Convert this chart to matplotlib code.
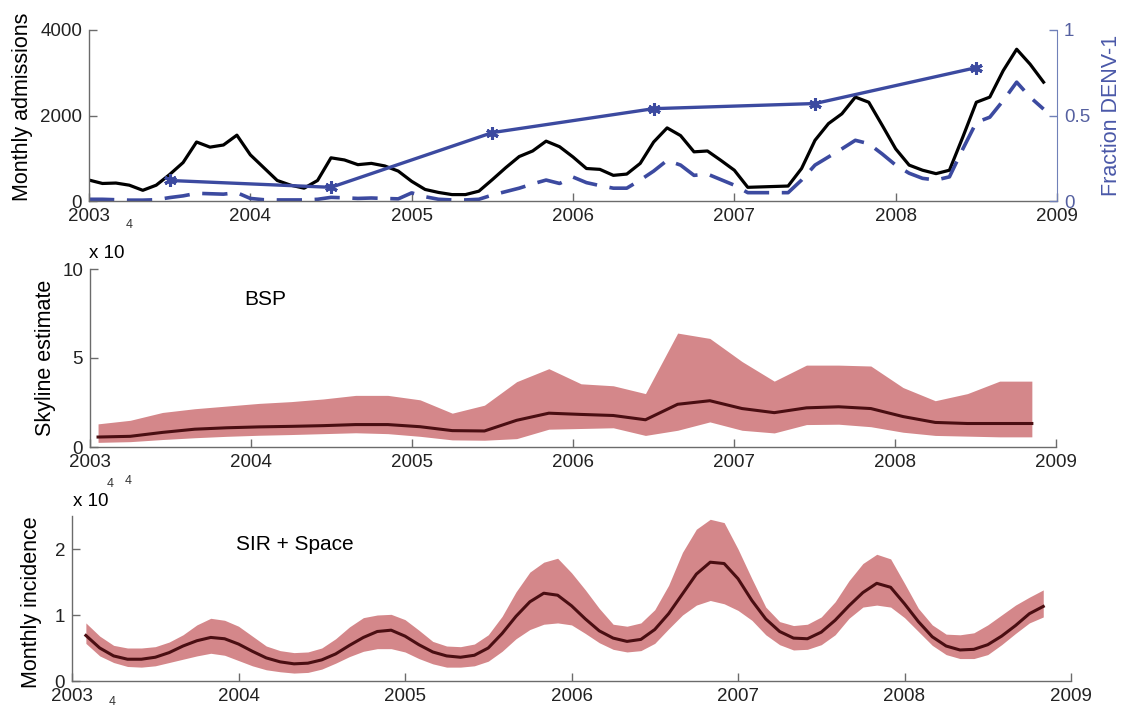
import numpy as np
import matplotlib.pyplot as plt

plt.rcParams['font.family'] = ['Liberation Sans', 'DejaVu Sans']

# monthly hospital admissions, Jan 2003 - Dec 2008
admissions = [490, 410, 420, 370, 250, 370, 620, 900, 1380, 1260, 1310, 1540,
              1080, 780, 480, 370, 300, 480, 1010, 960, 850, 880, 820, 700,
              460, 270, 200, 150, 150, 230, 500, 780, 1040, 1170, 1400, 1270,
              1030, 760, 740, 600, 630, 880, 1380, 1710, 1530, 1150, 1170, 950,
              720, 320, 330, 340, 350, 760, 1420, 1810, 2040, 2430, 2310, 1770,
              1220, 840, 720, 640, 720, 1500, 2310, 2430, 3050, 3550, 3200, 2780]
# admissions attributed to DENV-1
denv1_admissions = [40, 40, 30, 20, 20, 30, 80, 120, 180, 170, 160, 195,
                    60, 30, 25, 25, 25, 40, 85, 75, 60, 70, 60, 50,
                    190, 100, 40, 25, 25, 40, 140, 220, 300, 400, 490, 410,
                    560, 430, 360, 300, 300, 490, 700, 950, 840, 600, 630, 500,
                    370, 195, 195, 195, 195, 490, 840, 1030, 1220, 1420, 1340, 1100,
                    840, 650, 530, 490, 565, 1220, 1840, 1960, 2350, 2780, 2430, 2150]
# yearly fraction of sequenced isolates that are DENV-1
frac_years = [2003.5, 2004.5, 2005.5, 2006.5, 2007.5, 2008.5]
frac_denv1 = [0.12, 0.08, 0.40, 0.54, 0.57, 0.78]

# Bayesian skyline plot (x 10^4)
bsp_time = [2003.05, 2003.25, 2003.45, 2003.65, 2003.85, 2004.05, 2004.25, 2004.45,
            2004.65, 2004.85, 2005.05, 2005.25, 2005.45, 2005.65, 2005.85, 2006.05,
            2006.25, 2006.45, 2006.65, 2006.85, 2007.05, 2007.25, 2007.45, 2007.65,
            2007.85, 2008.05, 2008.25, 2008.45, 2008.65, 2008.85]
bsp_median = [0.56, 0.60, 0.82, 1.00, 1.08, 1.13, 1.16, 1.20, 1.26, 1.26, 1.14, 0.92,
              0.90, 1.50, 1.90, 1.83, 1.77, 1.53, 2.40, 2.60, 2.16, 1.93, 2.20, 2.26,
              2.16, 1.71, 1.38, 1.32, 1.32, 1.32]
bsp_upper = [1.30, 1.50, 1.94, 2.15, 2.30, 2.45, 2.55, 2.70, 2.90, 2.90, 2.65, 1.90,
             2.35, 3.67, 4.40, 3.55, 3.44, 3.00, 6.40, 6.10, 4.80, 3.70, 4.60, 4.60,
             4.55, 3.34, 2.60, 3.00, 3.70, 3.70]
bsp_lower = [0.26, 0.30, 0.42, 0.52, 0.60, 0.66, 0.70, 0.75, 0.80, 0.75, 0.60, 0.40,
             0.38, 0.47, 1.00, 1.04, 1.08, 0.65, 0.94, 1.41, 0.94, 0.79, 1.26, 1.28,
             1.14, 0.83, 0.65, 0.61, 0.57, 0.57]

# SIR + space model monthly incidence (x 10^4), Feb 2003 - Nov 2008
sir_median = [0.69, 0.50, 0.38, 0.33, 0.33, 0.36, 0.43, 0.53, 0.61, 0.66, 0.64,
              0.56, 0.45, 0.35, 0.29, 0.26, 0.27, 0.32, 0.41, 0.54, 0.66, 0.75, 0.77,
              0.68, 0.55, 0.44, 0.38, 0.36, 0.39, 0.50, 0.72, 0.98, 1.20, 1.33, 1.30,
              1.14, 0.94, 0.76, 0.65, 0.60, 0.63, 0.78, 1.02, 1.32, 1.62, 1.80, 1.78,
              1.55, 1.22, 0.94, 0.75, 0.65, 0.64, 0.74, 0.92, 1.14, 1.34, 1.48, 1.42,
              1.17, 0.90, 0.67, 0.53, 0.47, 0.48, 0.55, 0.68, 0.84, 1.02, 1.13]
sir_upper = [0.88, 0.68, 0.54, 0.50, 0.50, 0.52, 0.59, 0.70, 0.85, 0.95, 0.92,
             0.83, 0.68, 0.53, 0.46, 0.43, 0.44, 0.50, 0.64, 0.82, 0.96, 1.00, 1.01,
             0.93, 0.77, 0.60, 0.53, 0.52, 0.56, 0.70, 0.98, 1.35, 1.65, 1.80, 1.86,
             1.64, 1.38, 1.10, 0.86, 0.83, 0.88, 1.08, 1.45, 1.95, 2.30, 2.45, 2.40,
             2.00, 1.55, 1.12, 0.90, 0.84, 0.86, 0.97, 1.20, 1.52, 1.78, 1.92, 1.85,
             1.48, 1.10, 0.85, 0.71, 0.70, 0.73, 0.85, 1.00, 1.15, 1.27, 1.38]
sir_lower = [0.57, 0.38, 0.28, 0.22, 0.21, 0.23, 0.28, 0.33, 0.38, 0.42, 0.39,
             0.31, 0.23, 0.17, 0.14, 0.12, 0.13, 0.18, 0.27, 0.37, 0.45, 0.49, 0.49,
             0.44, 0.34, 0.26, 0.21, 0.21, 0.23, 0.30, 0.45, 0.64, 0.78, 0.86, 0.88,
             0.85, 0.72, 0.58, 0.48, 0.44, 0.46, 0.57, 0.79, 1.00, 1.15, 1.22, 1.17,
             1.07, 0.92, 0.70, 0.55, 0.47, 0.48, 0.55, 0.70, 0.95, 1.12, 1.15, 1.12,
             0.96, 0.75, 0.54, 0.40, 0.34, 0.34, 0.40, 0.55, 0.72, 0.88, 0.97]

years = [2003, 2004, 2005, 2006, 2007, 2008, 2009]

W, H = 1123, 718
t_adm = 2003 + np.arange(len(admissions)) / 12
t_sir = 2003 + np.arange(1, len(sir_median) + 1) / 12

axis_grey = '#6b6b6b'
blue = '#3c4aa0'
band = '#d4878a'
dark = '#4a0e12'


def px_rect(x0, y0, x1, y1):
    # pixel box (left, top, right, bottom) -> figure fraction rect
    return [x0 / W, 1 - y1 / H, (x1 - x0) / W, (y1 - y0) / H]


def px(x, y):
    return x / W, 1 - y / H


def style_axes(ax, yticks):
    ax.set_xlim(2003, 2009)
    ax.set_xticks(years)
    ax.set_xticklabels([str(y) for y in years])
    ax.set_yticks(yticks)
    for side in ['top', 'right']:
        ax.spines[side].set_visible(False)
    for side in ['left', 'bottom']:
        ax.spines[side].set_color(axis_grey)
        ax.spines[side].set_linewidth(1.0)
    ax.tick_params(direction='in', length=6, width=1.0, color=axis_grey,
                   labelsize=13.5, pad=5, labelcolor='#222222')


fig = plt.figure(figsize=(W / 100, H / 100), dpi=100)

# admissions and DENV-1 fraction
ax1 = fig.add_axes(px_rect(89, 30, 1057, 201))
ax1.plot(t_adm, admissions, color='black', lw=2.3)
ax1.plot(t_adm, denv1_admissions, color=blue, lw=2.6, dashes=(7, 3.5))
ax1.set_ylim(0, 4000)
style_axes(ax1, [0, 2000, 4000])
ax1.set_ylabel('Monthly admissions', fontsize=15.5)
ax1.yaxis.set_label_coords(-0.058, 0.55)

ax1r = ax1.twinx()
ax1r.plot(frac_years, frac_denv1, color=blue, lw=2.4, marker=(6, 2, 0),
          ms=9, mew=2.2, mec=blue)
ax1r.set_ylim(0, 1)
ax1r.set_yticks([0, 0.5, 1])
ax1r.set_yticklabels(['0', '0.5', '1'])
for side in ['top', 'left', 'bottom']:
    ax1r.spines[side].set_visible(False)
ax1r.spines['right'].set_color('#7080b8')
ax1r.tick_params(direction='in', length=6, width=1.0, color='#7080b8',
                 labelsize=13.5, pad=5, labelcolor='#5560a0')
ax1r.set_ylabel('Fraction DENV-1', fontsize=15.5, color='#4a58a8')
ax1r.yaxis.set_label_coords(1.045, 0.5)

# Bayesian skyline
ax2 = fig.add_axes(px_rect(90, 269, 1056, 447))
ax2.fill_between(bsp_time, bsp_lower, bsp_upper, color=band, lw=0)
ax2.plot(bsp_time, bsp_median, color=dark, lw=2.2)
ax2.set_ylim(0, 10)
style_axes(ax2, [0, 5, 10])
ax2.set_ylabel('Skyline estimate', fontsize=15.5)
ax2.yaxis.set_label_coords(-0.035, 0.5)
ax2.text(0.181, 0.83, 'BSP', transform=ax2.transAxes, fontsize=15,
         ha='center', va='center')

# SIR + space model
ax3 = fig.add_axes(px_rect(72, 516, 1071, 681))
ax3.fill_between(t_sir, sir_lower, sir_upper, color=band, lw=0)
ax3.plot(t_sir, sir_median, color=dark, lw=2.2)
ax3.set_ylim(0, 2.5)
style_axes(ax3, [0, 1, 2])
ax3.set_ylabel('Monthly incidence', fontsize=15.5)
ax3.yaxis.set_label_coords(-0.03, 0.48)
ax3.text(0.223, 0.825, 'SIR + Space', transform=ax3.transAxes, fontsize=15,
         ha='center', va='center')

# scale factors (exponents sit slightly off, as exported)
fig.text(*px(107, 253), 'x 10', fontsize=13.5, ha='center', va='center')
fig.text(*px(91, 502), 'x 10', fontsize=13.5, ha='center', va='center')
for x, y in [(129, 225), (110, 484), (128, 481), (112, 702)]:
    fig.text(*px(x, y), '4', fontsize=9, ha='center', va='center', color='#333333')

fig.savefig('out.png', dpi=100)
